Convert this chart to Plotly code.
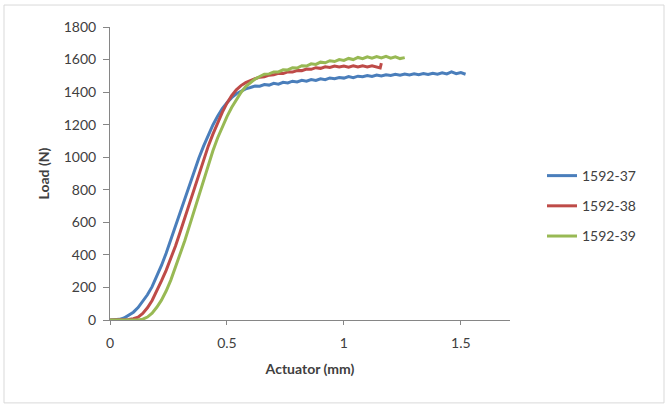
import plotly.graph_objects as go

# ---- data ----
x_37 = [0.00, 0.02, 0.04, 0.06, 0.08, 0.10, 0.12, 0.14, 0.16, 0.18, 0.20, 0.22, 0.24, 0.26, 0.28, 0.30,
        0.32, 0.34, 0.36, 0.38, 0.40, 0.42, 0.44, 0.46, 0.48, 0.50, 0.52, 0.54, 0.56, 0.58, 0.60, 0.62,
        0.64, 0.66, 0.68, 0.70, 0.72, 0.74, 0.76, 0.78, 0.80, 0.82, 0.84, 0.86, 0.88, 0.90, 0.92, 0.94,
        0.96, 0.98, 1.00, 1.02, 1.04, 1.06, 1.08, 1.10, 1.12, 1.14, 1.16, 1.18, 1.20, 1.22, 1.24, 1.26,
        1.28, 1.30, 1.32, 1.34, 1.36, 1.38, 1.40, 1.42, 1.44, 1.46, 1.48, 1.50, 1.52]
y_37 = [0, 1, 4, 12, 28, 48, 76, 112, 155, 205, 265, 335, 410, 495, 580, 665,
        750, 835, 915, 995, 1068, 1138, 1198, 1252, 1298, 1335, 1366, 1390, 1406, 1420, 1428, 1437,
        1436, 1446, 1443, 1454, 1449, 1460, 1456, 1467, 1462, 1472, 1467, 1477, 1472, 1482, 1476, 1487,
        1482, 1490, 1486, 1495, 1489, 1498, 1494, 1502, 1496, 1505, 1499, 1507, 1502, 1509, 1504, 1511,
        1505, 1513, 1507, 1514, 1509, 1516, 1510, 1518, 1512, 1524, 1513, 1520, 1510]

x_38 = [0.00, 0.02, 0.04, 0.06, 0.08, 0.10, 0.12, 0.14, 0.16, 0.18, 0.20, 0.22, 0.24, 0.26, 0.28, 0.30,
        0.32, 0.34, 0.36, 0.38, 0.40, 0.42, 0.44, 0.46, 0.48, 0.50, 0.52, 0.54, 0.56, 0.58, 0.60, 0.62,
        0.64, 0.66, 0.68, 0.70, 0.72, 0.74, 0.76, 0.78, 0.80, 0.82, 0.84, 0.86, 0.88, 0.90, 0.92, 0.94,
        0.96, 0.98, 1.00, 1.02, 1.04, 1.06, 1.08, 1.10, 1.12, 1.14, 1.155, 1.16]
y_38 = [0, 0, 0, 1, 3, 8, 18, 40, 75, 120, 175, 240, 305, 375, 455, 540,
        630, 720, 812, 902, 988, 1068, 1142, 1212, 1276, 1332, 1378, 1414, 1440, 1458, 1472, 1482,
        1492, 1494, 1504, 1506, 1515, 1514, 1524, 1523, 1533, 1532, 1542, 1540, 1550, 1546, 1556, 1551,
        1560, 1554, 1560, 1553, 1561, 1554, 1562, 1555, 1561, 1552, 1548, 1578]

x_39 = [0.00, 0.02, 0.04, 0.06, 0.08, 0.10, 0.12, 0.14, 0.16, 0.18, 0.20, 0.22, 0.24, 0.26, 0.28, 0.30,
        0.32, 0.34, 0.36, 0.38, 0.40, 0.42, 0.44, 0.46, 0.48, 0.50, 0.52, 0.54, 0.56, 0.58, 0.60, 0.62,
        0.64, 0.66, 0.68, 0.70, 0.72, 0.74, 0.76, 0.78, 0.80, 0.82, 0.84, 0.86, 0.88, 0.90, 0.92, 0.94,
        0.96, 0.98, 1.00, 1.02, 1.04, 1.06, 1.08, 1.10, 1.12, 1.14, 1.16, 1.18, 1.20, 1.22, 1.24, 1.26]
y_39 = [0, 0, 0, 0, 0, 0, 0, 5, 18, 42, 78, 122, 178, 245, 322, 400,
        488, 580, 675, 770, 865, 955, 1040, 1118, 1188, 1250, 1305, 1355, 1398, 1434, 1460, 1480,
        1496, 1510, 1512, 1524, 1524, 1537, 1536, 1550, 1548, 1562, 1560, 1574, 1570, 1584, 1580, 1593,
        1588, 1600, 1595, 1607, 1600, 1613, 1605, 1617, 1609, 1618, 1610, 1620, 1609, 1617, 1606, 1612]

series_names = ["1592-37", "1592-38", "1592-39"]
series_x = [x_37, x_38, x_39]
series_y = [y_37, y_38, y_39]
colors = ["#4A7EBB", "#BE4B48", "#98B954"]

x_ticks = [0, 0.5, 1, 1.5]
x_tick_text = ["0", "0.5", "1", "1.5"]
y_ticks = [0, 200, 400, 600, 800, 1000, 1200, 1400, 1600, 1800]

FONT = "Lato, 'Open Sans', sans-serif"
TXT = "#404040"

fig = go.Figure()
for name, xs, ys, c in zip(series_names, series_x, series_y, colors):
    fig.add_trace(go.Scatter(x=xs, y=ys, mode="lines", name=name, legendgroup=name,
                             line=dict(color=c, width=3)))

fig.update_layout(
    width=666, height=405,
    margin=dict(l=110, r=156, t=27, b=85),
    paper_bgcolor="white", plot_bgcolor="white",
    font=dict(family=FONT, size=14, color=TXT),
    showlegend=True,
    legend=dict(x=1.08, xanchor="left", y=0.389, yanchor="middle",
                traceorder="grouped", tracegroupgap=9,
                font=dict(family=FONT, size=14, color=TXT),
                bgcolor="rgba(0,0,0,0)"),
    xaxis=dict(range=[0, 1.71], tickvals=x_ticks, ticktext=x_tick_text,
               showgrid=False, zeroline=False, showline=True, linecolor="#868686", linewidth=1,
               ticks="outside", ticklen=4, tickcolor="#868686", ticklabelstandoff=6,
               tickfont=dict(family=FONT, size=14, color=TXT),
               title=dict(text="<b>Actuator (mm)</b>", font=dict(family=FONT, size=14, color=TXT),
                          standoff=14)),
    yaxis=dict(range=[0, 1800], tickvals=y_ticks,
               showgrid=False, zeroline=False, showline=True, linecolor="#868686", linewidth=1,
               ticks="outside", ticklen=6, tickcolor="#868686", ticklabelstandoff=4,
               tickfont=dict(family=FONT, size=14, color=TXT),
               title=dict(text="<b>Load (N)</b>", font=dict(family=FONT, size=14, color=TXT),
                          standoff=10)),
)

fig.add_shape(type="rect", xref="paper", yref="paper",
              x0=-0.265, x1=1.385, y0=-0.283, y1=1.075,
              line=dict(color="#D9D9D9", width=1), fillcolor="rgba(0,0,0,0)", layer="below")

fig.write_html("out.html", config={"displayModeBar": False},
               post_script="document.body.style.margin='0';document.body.style.overflow='hidden';")
